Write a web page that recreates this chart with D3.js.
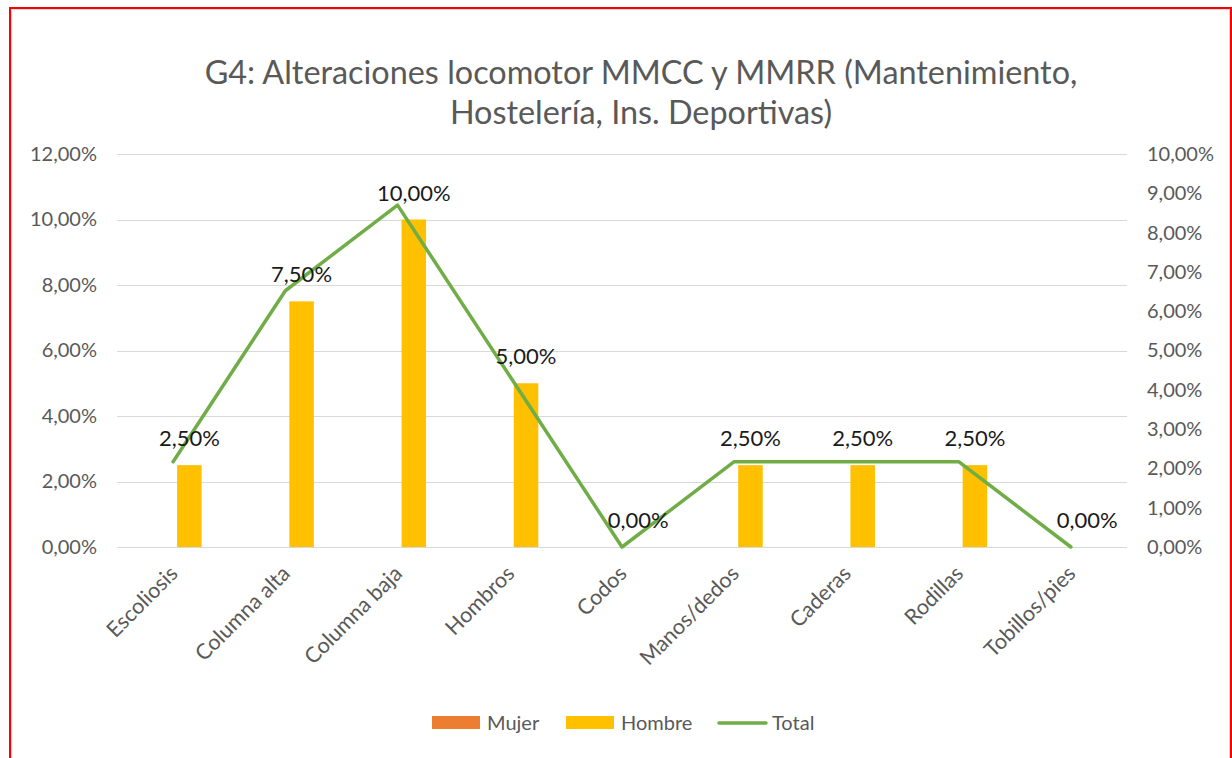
<!DOCTYPE html>
<html>
<head>
<meta charset="utf-8">
<script src="https://cdn.jsdelivr.net/npm/d3@7"></script>
<style>
  html, body { margin: 0; padding: 0; background: #fff; }
  svg { display: block; font-family: Lato, "Noto Sans", sans-serif; }
</style>
</head>
<body>
<svg id="chart" width="1232" height="758"></svg>
<script>
// Data
const categories = ['Escoliosis', 'Columna alta', 'Columna baja', 'Hombros', 'Codos',
                    'Manos/dedos', 'Caderas', 'Rodillas', 'Tobillos/pies'];
const mujer  = [0, 0, 0, 0, 0, 0, 0, 0, 0];
const hombre = [0.025, 0.075, 0.10, 0.05, 0, 0.025, 0.025, 0.025, 0];
const total  = [0.0217, 0.0652, 0.0870, 0.0435, 0, 0.0217, 0.0217, 0.0217, 0];
const leftTicks  = [0, 0.02, 0.04, 0.06, 0.08, 0.10, 0.12];
const rightTicks = [0, 0.01, 0.02, 0.03, 0.04, 0.05, 0.06, 0.07, 0.08, 0.09, 0.10];
const seriesNames = ['Mujer', 'Hombre'];
const titleLines = ['G4: Alteraciones locomotor MMCC y MMRR (Mantenimiento,',
                    'Hostelería, Ins. Deportivas)'];

const colors = { Mujer: '#ED7D31', Hombre: '#FFC000', Total: '#70AD47' };
const pct = d => d3.format('.2f')(d * 100).replace('.', ',') + '%';

const svg = d3.select('#chart');

// frame
svg.append('rect').attr('x', 11.5).attr('y', 9.5).attr('width', 1218).attr('height', 760)
    .attr('fill', 'none').attr('stroke', '#d9d9d9').attr('stroke-width', 1);
svg.append('rect').attr('x', 10).attr('y', 8).attr('width', 1221).attr('height', 760)
    .attr('fill', 'none').attr('stroke', '#ff0000').attr('stroke-width', 2);

const plot = { left: 117, right: 1127, top: 154, bottom: 547 };

const x = d3.scaleBand().domain(categories).range([plot.left, plot.right]).padding(0);
const xs = d3.scaleBand().domain(seriesNames)
    .range([x.bandwidth() * 0.246, x.bandwidth() * 0.754]).paddingInner(0.246);
const yL = d3.scaleLinear().domain([0, 0.12]).range([plot.bottom, plot.top]);
const yR = d3.scaleLinear().domain([0, 0.10]).range([plot.bottom, plot.top]);

// title
const title = svg.append('text')
    .attr('text-anchor', 'middle')
    .attr('fill', '#595959')
    .style('font-size', '30px');
title.selectAll('tspan').data(titleLines).enter().append('tspan')
    .attr('x', 641)
    .attr('y', (d, i) => 84 + i * 40)
    .text(d => d);
// fit first line to the reference width
const w0 = title.select('tspan').node().getComputedTextLength();
title.style('font-size', (30 * 873 / w0).toFixed(2) + 'px');

// gridlines
svg.append('g').selectAll('line').data(leftTicks).enter().append('line')
    .attr('x1', plot.left).attr('x2', plot.right)
    .attr('y1', d => Math.round(yL(d)) + 0.5).attr('y2', d => Math.round(yL(d)) + 0.5)
    .attr('stroke', '#d9d9d9').attr('stroke-width', 1);

// left axis
const axL = svg.append('g')
    .attr('transform', `translate(${plot.left}, 0)`)
    .call(d3.axisLeft(yL).tickValues(leftTicks).tickFormat(pct).tickSize(0).tickPadding(20));
axL.select('.domain').remove();
axL.selectAll('text').attr('fill', '#595959').style('font-size', '20px').style('font-family', 'Lato');

// right axis
const axR = svg.append('g')
    .attr('transform', `translate(${plot.right}, 0)`)
    .call(d3.axisRight(yR).tickValues(rightTicks).tickFormat(pct).tickSize(0).tickPadding(20));
axR.select('.domain').remove();
axR.selectAll('text').attr('fill', '#595959').style('font-size', '20px').style('font-family', 'Lato');

// bottom axis labels
const axB = svg.append('g')
    .attr('transform', `translate(0, ${plot.bottom})`)
    .call(d3.axisBottom(x).tickSize(0).tickPadding(0));
axB.select('.domain').remove();
axB.selectAll('text')
    .attr('fill', '#595959')
    .style('font-size', '21.5px').style('font-family', 'Lato')
    .attr('text-anchor', 'end')
    .attr('dy', 0)
    .attr('transform', 'translate(6, 28) rotate(-45)');

// bars
const rows = categories.map((c, i) => ({ cat: c, Mujer: mujer[i], Hombre: hombre[i] }));
const groups = svg.append('g').selectAll('g').data(rows).enter().append('g')
    .attr('transform', d => `translate(${x(d.cat)}, 0)`);
groups.selectAll('rect')
    .data(d => seriesNames.map(s => ({ s, v: d[s] })))
    .enter().append('rect')
    .attr('x', d => xs(d.s))
    .attr('width', xs.bandwidth())
    .attr('y', d => yL(d.v))
    .attr('height', d => yL(0) - yL(d.v))
    .attr('fill', d => colors[d.s]);

// total line on the secondary axis
const line = d3.line()
    .x((d, i) => x(categories[i]) + x.bandwidth() / 2)
    .y(d => yR(d));
svg.append('path').datum(total)
    .attr('d', line)
    .attr('fill', 'none')
    .attr('stroke', colors.Total)
    .attr('stroke-width', 3.5)
    .attr('stroke-linejoin', 'round')
    .attr('stroke-linecap', 'round');

// data labels for Hombre
svg.append('g').selectAll('text').data(rows).enter().append('text')
    .attr('x', d => x(d.cat) + xs('Hombre') + xs.bandwidth() / 2)
    .attr('y', d => yL(d.Hombre) - 19)
    .attr('text-anchor', 'middle')
    .attr('fill', '#1a1a1a')
    .style('font-size', '22px')
    .text(d => pct(d.Hombre));

// legend
const legendItems = [
  { name: 'Mujer', type: 'rect', x: 432 },
  { name: 'Hombre', type: 'rect', x: 566 },
  { name: 'Total', type: 'line', x: 717 }
];
const lg = svg.append('g');
legendItems.forEach(it => {
  if (it.type === 'rect') {
    lg.append('rect').attr('x', it.x).attr('y', 716).attr('width', 48).attr('height', 13)
      .attr('fill', colors[it.name]);
    lg.append('text').attr('x', it.x + 55).attr('y', 730)
      .attr('fill', '#595959').style('font-size', '20px').text(it.name);
  } else {
    lg.append('line').attr('x1', it.x + 2).attr('x2', it.x + 49).attr('y1', 723).attr('y2', 723)
      .attr('stroke', colors[it.name]).attr('stroke-width', 3.5).attr('stroke-linecap', 'round');
    lg.append('text').attr('x', it.x + 55).attr('y', 730)
      .attr('fill', '#595959').style('font-size', '20px').text(it.name);
  }
});
</script>
</body>
</html>
